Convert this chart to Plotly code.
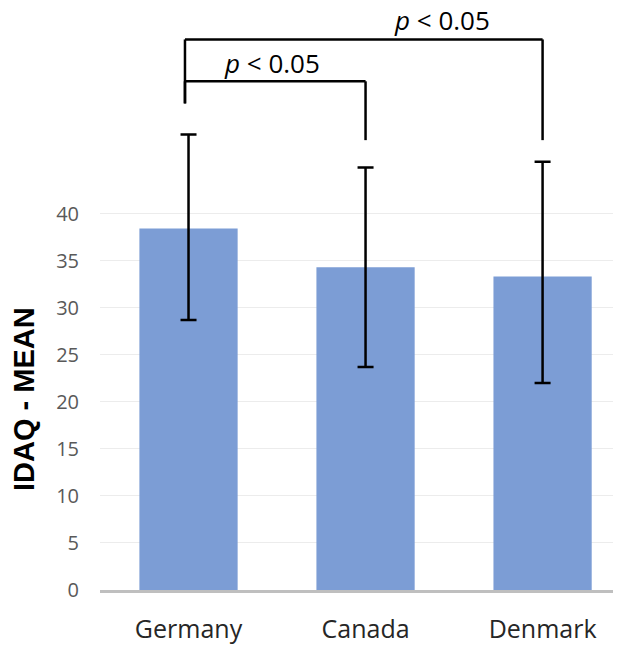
import plotly.graph_objects as go

categories = ["Germany", "Canada", "Denmark"]
means = [38.4, 34.3, 33.3]
err_plus = [10.0, 10.6, 12.2]
err_minus = [9.7, 10.6, 11.3]
y_ticks = [0, 5, 10, 15, 20, 25, 30, 35, 40]

# significance brackets: (left index, right index, top level, left foot, right foot, label)
brackets = [
    (0, 1, 54.05, 51.7, 47.8, "<i>p</i> &lt; 0.05"),
    (0, 2, 58.5, 51.7, 47.8, "<i>p</i> &lt; 0.05"),
]

fig = go.Figure()
fig.add_trace(go.Bar(
    x=categories, y=means,
    marker=dict(color="rgb(124,157,213)", line=dict(width=0)),
    error_y=dict(type="data", symmetric=False, array=err_plus, arrayminus=err_minus,
                 color="black", thickness=2.5, width=8),
))

line_style = dict(color="black", width=2.5)
label_pos = [(0.47, 56.0), (1.43, 60.6)]
for (i, j, top, lf, rf, label), (lx, ly) in zip(brackets, label_pos):
    xl = i - 0.02
    xr = j
    fig.add_shape(type="line", xref="x", yref="y", x0=xl, x1=xr, y0=top, y1=top, line=line_style)
    fig.add_shape(type="line", xref="x", yref="y", x0=xl, x1=xl, y0=top, y1=lf, line=line_style)
    fig.add_shape(type="line", xref="x", yref="y", x0=xr, x1=xr, y0=top, y1=rf, line=line_style)
    fig.add_annotation(x=lx, y=ly, xref="x", yref="y", text=label, showarrow=False,
                       font=dict(family="Open Sans", size=26, color="black"))

fig.add_annotation(text="<b>IDAQ - MEAN</b>", xref="paper", yref="paper",
                   x=-0.146, y=0.328, xanchor="center", yanchor="middle",
                   textangle=-90, showarrow=False,
                   font=dict(family="Liberation Sans", size=29, color="black"))

fig.update_layout(
    width=613, height=637,
    margin=dict(l=92, r=0, t=0, b=52),
    paper_bgcolor="white", plot_bgcolor="white",
    bargap=0.445, showlegend=False,
    xaxis=dict(range=[-0.5, 2.443], showline=True, linecolor="#bfbfbf", linewidth=3,
               showgrid=False, ticks="", ticklabelstandoff=15,
               tickfont=dict(family="Open Sans", size=25, color="#262626")),
    yaxis=dict(range=[0, 61.84], tickvals=y_ticks, showgrid=True, gridcolor="#ececec",
               gridwidth=1, zeroline=False, showline=False, ticks="",
               ticklabelstandoff=20,
               tickfont=dict(family="Open Sans", size=20, color="#595959")),
)

fig.write_html("out.html")
